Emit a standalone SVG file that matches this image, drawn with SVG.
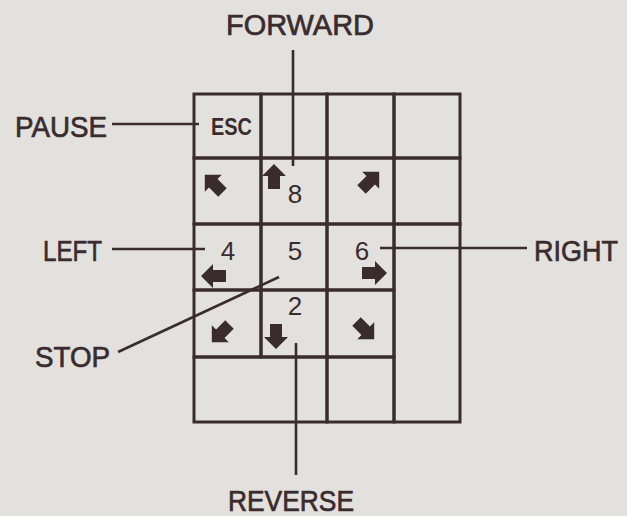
<svg xmlns="http://www.w3.org/2000/svg" xmlns:xlink="http://www.w3.org/1999/xlink" width="627" height="516" viewBox="0 0 627 516">
  <style>
    .ink { stroke: #3a2c2e; stroke-width: 3; fill: none; stroke-linecap: square; }
    .lead { stroke: #3a2c2e; stroke-width: 2.6; fill: none; }
    .lbl { font-family: "Liberation Sans", Arial, sans-serif; font-size: 30px; fill: #3a2c2e; stroke: #3a2c2e; stroke-width: 0.7; }
    .num { font-family: "Liberation Sans", Arial, sans-serif; font-size: 26px; fill: #3a2c2e; text-anchor: middle; }
    .esc { font-family: "Liberation Sans", Arial, sans-serif; font-size: 24px; font-weight: bold; fill: #3a2c2e; }
    .arr { fill: #3a2c2e; }
  </style>
  <defs>
    <path id="arr" d="M0,-13 L12,-1 L6,-1 L6,12 L-6,12 L-6,-1 L-12,-1 Z"/>
  </defs>
  <rect x="0" y="0" width="627" height="516" fill="#e3e1dd"/>

  <!-- keys -->
  <g id="key-esc"><rect class="ink" x="194" y="94" width="67" height="64"/><text class="esc" x="211" y="135" textLength="41" lengthAdjust="spacingAndGlyphs">ESC</text></g>
  <g id="key-r1c2"><rect class="ink" x="261" y="94" width="66" height="64"/></g>
  <g id="key-r1c3"><rect class="ink" x="327" y="94" width="67" height="64"/></g>
  <g id="key-r1c4"><rect class="ink" x="394" y="94" width="66" height="64"/></g>

  <g id="key-7"><rect class="ink" x="194" y="158" width="67" height="66"/><use class="arr" xlink:href="#arr" transform="translate(214,184) rotate(-45)"/></g>
  <g id="key-8"><rect class="ink" x="261" y="158" width="66" height="66"/><use class="arr" xlink:href="#arr" transform="translate(274,177)"/><text class="num" x="295" y="203">8</text></g>
  <g id="key-9"><rect class="ink" x="327" y="158" width="67" height="66"/><use class="arr" xlink:href="#arr" transform="translate(370,181) rotate(45)"/></g>
  <g id="key-r2c4"><rect class="ink" x="394" y="158" width="66" height="66"/></g>

  <g id="key-4"><rect class="ink" x="194" y="224" width="67" height="66"/><use class="arr" xlink:href="#arr" transform="translate(214,276) rotate(-90)"/><text class="num" x="228" y="260">4</text></g>
  <g id="key-5"><rect class="ink" x="261" y="224" width="66" height="66"/><text class="num" x="295" y="260">5</text></g>
  <g id="key-6"><rect class="ink" x="327" y="224" width="67" height="66"/><use class="arr" xlink:href="#arr" transform="translate(374,273) rotate(90)"/><text class="num" x="362" y="260">6</text></g>
  <g id="key-plus"><rect class="ink" x="394" y="224" width="66" height="198"/></g>

  <g id="key-1"><rect class="ink" x="194" y="290" width="67" height="67"/><use class="arr" xlink:href="#arr" transform="translate(221,333) rotate(-135)"/></g>
  <g id="key-2"><rect class="ink" x="261" y="290" width="66" height="67"/><use class="arr" xlink:href="#arr" transform="translate(276,336) rotate(180)"/><text class="num" x="295" y="315">2</text></g>
  <g id="key-3"><rect class="ink" x="327" y="290" width="67" height="67"/><use class="arr" xlink:href="#arr" transform="translate(365,330) rotate(135)"/></g>

  <g id="key-0"><rect class="ink" x="194" y="357" width="133" height="65"/></g>
  <g id="key-dot"><rect class="ink" x="327" y="357" width="67" height="65"/></g>

  <!-- labels -->
  <g id="label-forward"><text class="lbl" x="226" y="35" textLength="148" lengthAdjust="spacingAndGlyphs">FORWARD</text></g>
  <g id="label-pause"><text class="lbl" x="15" y="137" textLength="92" lengthAdjust="spacingAndGlyphs">PAUSE</text></g>
  <g id="label-left"><text class="lbl" x="43" y="261" textLength="59" lengthAdjust="spacingAndGlyphs">LEFT</text></g>
  <g id="label-right"><text class="lbl" x="534" y="261" textLength="84" lengthAdjust="spacingAndGlyphs">RIGHT</text></g>
  <g id="label-stop"><text class="lbl" x="35" y="367" textLength="75" lengthAdjust="spacingAndGlyphs">STOP</text></g>
  <g id="label-reverse"><text class="lbl" x="228" y="511" textLength="126" lengthAdjust="spacingAndGlyphs">REVERSE</text></g>

  <!-- connectors -->
  <g id="connectors">
    <line class="lead" x1="293" y1="50" x2="293" y2="166"/>
    <line class="lead" x1="112" y1="124" x2="199" y2="124"/>
    <line class="lead" x1="112" y1="249" x2="205" y2="249"/>
    <line class="lead" x1="380" y1="248" x2="527" y2="248"/>
    <line class="lead" x1="118" y1="352" x2="279" y2="277"/>
    <line class="lead" x1="296" y1="343" x2="296" y2="475"/>
  </g>
</svg>
